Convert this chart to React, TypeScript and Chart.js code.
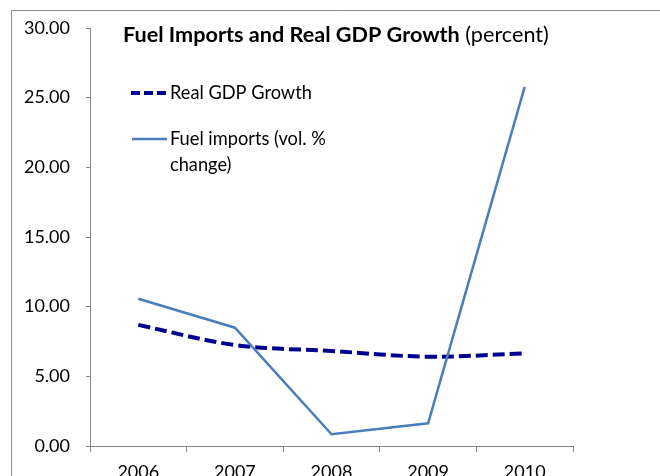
import React, { useEffect, useRef } from "react";
import { Chart, registerables } from "chart.js";

Chart.register(...registerables);

const categories = ["2006", "2007", "2008", "2009", "2010"];
const realGdpGrowth = [8.69, 7.25, 6.82, 6.41, 6.65];
const fuelImports = [10.57, 8.49, 0.84, 1.63, 25.77];
const yMin = 0;
const yMax = 30;
const yStep = 5;

const titleBold = "Fuel Imports and Real GDP Growth";
const titleNormal = " (percent)";
const legendGdp = "Real GDP Growth";
const legendFuelLines = ["Fuel imports (vol. %", "change)"];

const FONT = "Lato, 'Open Sans', sans-serif";
const GDP_COLOR = "#000090";
const FUEL_COLOR = "#4A7EBB";
const AXIS_COLOR = "#868686";

function fitSize(ctx: CanvasRenderingContext2D, text: string, weight: string, target: number) {
  ctx.font = `${weight} 20px ${FONT}`;
  const w = ctx.measureText(text).width;
  return (20 * target) / w;
}

const overlayPlugin = {
  id: "overlay",
  afterDraw(chart: any) {
    const ctx: CanvasRenderingContext2D = chart.ctx;
    ctx.save();
    // outer border
    ctx.strokeStyle = "#8c8c8c";
    ctx.lineWidth = 1;
    ctx.beginPath();
    ctx.moveTo(11.5, 480);
    ctx.lineTo(11.5, 10.5);
    ctx.lineTo(670, 10.5);
    ctx.stroke();

    // title
    const ts = fitSize(ctx, titleBold, "bold", 337);
    ctx.fillStyle = "#000";
    ctx.textBaseline = "alphabetic";
    ctx.textAlign = "left";
    ctx.font = `bold ${ts}px ${FONT}`;
    ctx.fillText(titleBold, 123, 42);
    const bw = ctx.measureText(titleBold).width;
    ctx.font = `normal ${ts}px ${FONT}`;
    ctx.fillText(titleNormal, 123 + bw, 42);

    // legend
    const ls = fitSize(ctx, legendGdp, "normal", 142);
    ctx.font = `normal ${ls}px ${FONT}`;
    ctx.lineCap = "butt";
    ctx.strokeStyle = GDP_COLOR;
    ctx.lineWidth = 4;
    ctx.setLineDash([9, 4]);
    ctx.beginPath();
    ctx.moveTo(131, 93);
    ctx.lineTo(167, 93);
    ctx.stroke();
    ctx.setLineDash([]);
    ctx.fillText(legendGdp, 170, 99);

    ctx.strokeStyle = FUEL_COLOR;
    ctx.lineWidth = 2.5;
    ctx.beginPath();
    ctx.moveTo(132, 139);
    ctx.lineTo(167, 139);
    ctx.stroke();
    ctx.fillText(legendFuelLines[0], 170, 145);
    ctx.fillText(legendFuelLines[1], 170, 171);
    ctx.restore();
  },
};

export default function App() {
  const ref = useRef<HTMLCanvasElement | null>(null);
  useEffect(() => {
    if (!ref.current) return;
    const chart = new Chart(ref.current, {
      type: "line",
      data: {
        labels: categories,
        datasets: [
          {
            label: "Fuel imports (vol. % change)",
            data: fuelImports,
            borderColor: FUEL_COLOR,
            borderWidth: 2.5,
            pointRadius: 0,
            tension: 0,
            fill: false,
          },
          {
            label: "Real GDP Growth",
            data: realGdpGrowth,
            borderColor: GDP_COLOR,
            borderWidth: 4,
            borderDash: [12, 5],
            pointRadius: 0,
            tension: 0.35,
            fill: false,
          },
        ],
      },
      options: {
        responsive: false,
        animation: false,
        devicePixelRatio: 1,
        layout: { padding: { left: 0, top: 28, right: 87, bottom: 0 } },
        plugins: {
          legend: { display: false },
          title: { display: false },
          tooltip: { enabled: false },
        },
        scales: {
          x: {
            offset: true,
            grid: {
              offset: true,
              drawOnChartArea: false,
              drawTicks: true,
              tickLength: 6,
              color: AXIS_COLOR,
            },
            border: { color: AXIS_COLOR, width: 1 },
            ticks: {
              color: "#000",
              font: { family: FONT, size: 18 },
              padding: 9,
              maxRotation: 0,
            },
            afterFit: (s: any) => {
              s.height = 30;
            },
          },
          y: {
            min: yMin,
            max: yMax,
            grid: {
              drawOnChartArea: false,
              drawTicks: true,
              tickLength: 4,
              color: AXIS_COLOR,
            },
            border: { color: AXIS_COLOR, width: 1 },
            ticks: {
              stepSize: yStep,
              color: "#000",
              font: { family: FONT, size: 18 },
              padding: 16,
              callback: (v: any) => Number(v).toFixed(2),
            },
            afterFit: (s: any) => {
              s.width = 90;
            },
          },
        },
      },
      plugins: [overlayPlugin],
    });
    return () => chart.destroy();
  }, []);
  return (
    <div style={{ position: "absolute", left: 0, top: 0, width: 660, height: 476, overflow: "hidden", background: "#fff" }}>
      <canvas ref={ref} width={660} height={476} style={{ display: "block" }} />
    </div>
  );
}
